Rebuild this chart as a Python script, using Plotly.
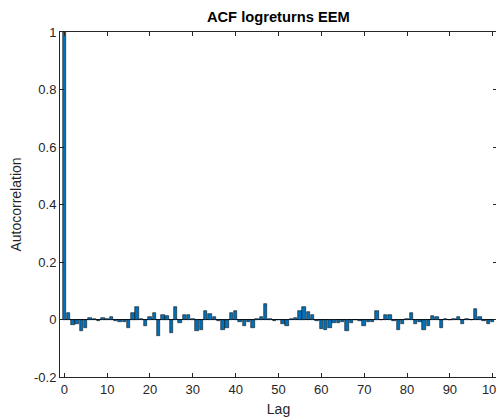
import plotly.graph_objects as go

lags = list(range(0, 101))
acf = [
    1.0, 0.021, -0.020, -0.016, -0.040, -0.031, 0.004, 0.002, -0.005, 0.004,
    0.001, 0.008, -0.004, -0.007, -0.008, -0.031, 0.024, 0.044, 0.001, -0.024,
    0.009, 0.022, -0.057, 0.014, 0.012, -0.046, 0.044, -0.013, 0.016, 0.016,
    0.001, -0.041, -0.038, 0.028, 0.020, 0.009, -0.005, -0.038, -0.029, 0.023,
    0.031, -0.007, -0.023, -0.009, -0.028, 0.002, 0.009, 0.055, 0.003, -0.006,
    0.000, -0.014, -0.023, 0.001, 0.006, 0.029, 0.043, 0.026, 0.015, -0.006,
    -0.033, -0.037, -0.030, -0.012, -0.012, -0.009, -0.041, -0.011, -0.003, -0.006,
    -0.023, -0.008, -0.007, 0.031, -0.003, 0.015, 0.017, -0.004, -0.037, -0.015,
    0.002, 0.023, -0.017, -0.010, -0.035, -0.023, 0.012, 0.009, -0.031, 0.001,
    -0.001, 0.002, 0.008, -0.015, 0.001, 0.000, 0.038, 0.009, -0.005, -0.017,
    -0.010,
]
x_ticks = list(range(0, 101, 10))
x_ticklabels = [str(v) for v in x_ticks]
y_ticks = [-0.2, 0, 0.2, 0.4, 0.6, 0.8, 1]
y_ticklabels = ["-0.2", "0", "0.2", "0.4", "0.6", "0.8", "1"]

axcol = "#262626"
font = "Arial, Liberation Sans, Helvetica, sans-serif"

fig = go.Figure()
fig.add_trace(go.Bar(
    x=lags, y=acf, width=0.8,
    marker=dict(color="#0072BD", line=dict(color="#111111", width=0.6)),
))

# page body has an 8px default margin, so the figure is sized to fit the window
fig.update_layout(
    width=496, height=412,
    margin=dict(l=52, r=7, t=24, b=43, autoexpand=False),
    paper_bgcolor="white", plot_bgcolor="white",
    showlegend=False,
    bargap=0,
    title=dict(text="<b>ACF logreturns EEM</b>", x=0.545, xanchor="center", xref="container",
               y=1, yref="container", yanchor="top", pad=dict(t=4),
               font=dict(family=font, size=14.7, color="#000000")),
    font=dict(family=font, size=13, color=axcol),
)
fig.update_xaxes(
    range=[-1, 101], tickvals=x_ticks, ticktext=x_ticklabels,
    showline=True, linecolor=axcol, linewidth=1, mirror="ticks",
    ticks="inside", ticklen=4, tickcolor=axcol, showgrid=False, zeroline=False,
    title=dict(text="Lag", font=dict(size=14, color=axcol), standoff=8),
    tickfont=dict(size=13, color=axcol), automargin=False,
)
fig.update_yaxes(
    range=[-0.2, 1], tickvals=y_ticks, ticktext=y_ticklabels,
    showline=True, linecolor=axcol, linewidth=1, mirror="ticks",
    ticks="inside", ticklen=4, tickcolor=axcol, showgrid=False,
    zeroline=True, zerolinecolor="#000000", zerolinewidth=1,
    title=dict(text="Autocorrelation", font=dict(size=14, color=axcol), standoff=13),
    tickfont=dict(size=13, color=axcol), automargin=False,
)

fig.write_html("out.html")
